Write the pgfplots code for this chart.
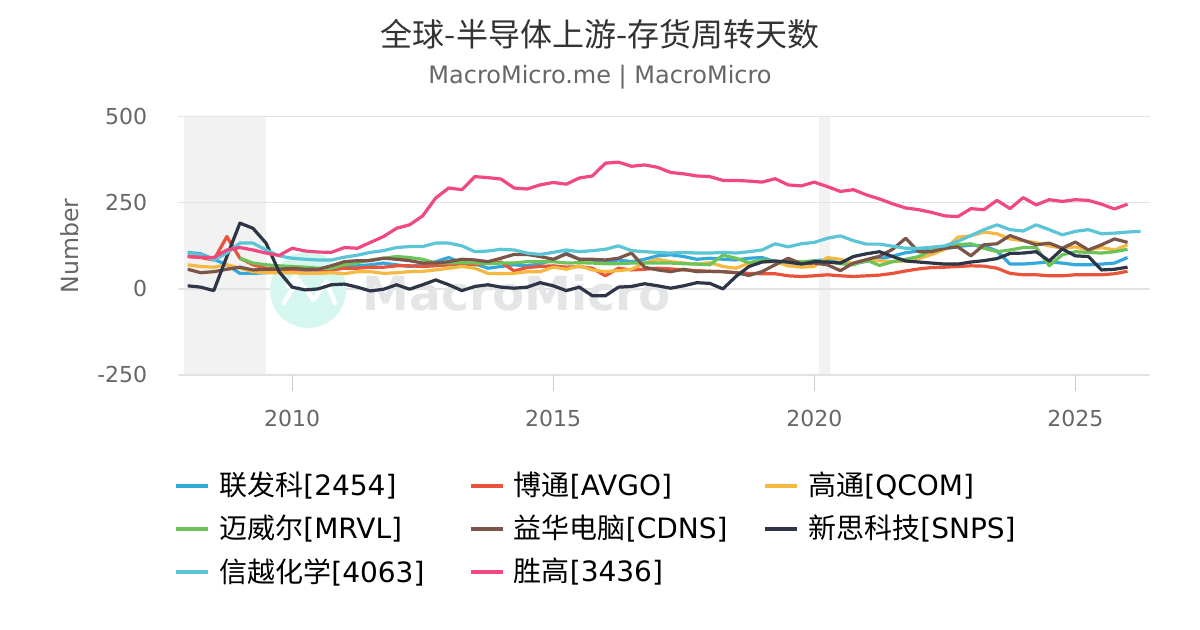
\documentclass[border=0pt]{standalone}
\usepackage{fontspec}
\setmainfont{DejaVu Sans}
\newfontfamily\cjk{Noto Sans CJK SC}
\usepackage{pgfplots}
\usepackage{pgfplotstable}
\pgfplotsset{compat=1.18}
\definecolor{cBlue}{HTML}{34A8DC}
\definecolor{cRed}{HTML}{E8533A}
\definecolor{cYellow}{HTML}{F5B942}
\definecolor{cGreen}{HTML}{6CC35A}
\definecolor{cBrown}{HTML}{7B5548}
\definecolor{cNavy}{HTML}{2D3547}
\definecolor{cCyan}{HTML}{5BC5D6}
\definecolor{cPink}{HTML}{F0487F}
\definecolor{cGrid}{HTML}{E3E3E3}
\definecolor{cBand}{HTML}{F2F2F2}
\definecolor{cTick}{HTML}{666666}
\definecolor{cTitle}{HTML}{333333}
\pgfplotstableread{
x blue red yellow green brown navy cyan pink
2008.00 106 94 70 nan 57 9 104 94
2008.25 102 91 65 nan 47 5 99 92
2008.50 86 84 63 nan 50 -5 84 91
2008.75 70 152 70 nan 57 94 104 113
2009.00 45 89 60 89 63 191 133 120
2009.25 45 70 50 75 55 176 133 113
2009.50 47 60 47 70 57 133 113 104
2009.75 50 57 47 67 57 50 96 97
2010.00 55 57 47 65 60 5 89 118
2010.25 55 55 45 63 57 -3 86 110
2010.50 57 55 45 60 57 0 84 107
2010.75 60 55 47 60 67 12 84 106
2011.00 65 60 44 70 79 14 92 120
2011.25 67 60 50 76 82 5 98 118
2011.50 70 63 50 84 82 -6 106 135
2011.75 75 63 45 89 89 -1 111 152
2012.00 70 67 47 94 86 12 120 176
2012.25 65 67 50 91 82 -1 123 186
2012.50 70 65 51 86 75 12 123 212
2012.75 79 67 55 75 75 26 133 264
2013.00 91 70 60 75 79 12 133 293
2013.25 75 73 65 76 86 -5 125 288
2013.50 73 70 60 75 84 7 108 326
2013.75 60 75 45 73 79 12 110 323
2014.00 65 78 44 75 89 5 115 319
2014.25 70 52 45 75 100 2 113 293
2014.50 67 62 50 79 100 5 104 290
2014.75 73 65 50 79 94 18 100 302
2015.00 84 67 63 79 86 9 106 309
2015.25 104 63 57 75 101 -5 113 304
2015.50 86 65 67 76 86 5 108 322
2015.75 84 60 55 75 86 -20 111 328
2016.00 79 38 50 73 84 -20 115 365
2016.25 84 60 53 73 89 5 125 368
2016.50 79 55 57 75 104 7 111 356
2016.75 86 57 75 75 63 15 108 360
2017.00 96 60 86 75 55 9 106 353
2017.25 99 58 79 75 50 2 104 338
2017.50 94 55 75 73 57 9 106 334
2017.75 86 53 72 72 50 18 104 328
2018.00 89 51 76 70 51 16 104 326
2018.25 86 50 65 98 50 0 106 315
2018.50 84 47 60 89 47 36 104 315
2018.75 89 45 75 76 39 65 108 313
2019.00 91 44 79 84 50 78 113 310
2019.25 79 44 79 79 70 81 131 320
2019.50 75 38 67 79 89 78 122 302
2019.75 76 36 63 79 73 72 131 299
2020.00 82 38 65 81 75 79 135 310
2020.25 84 41 91 79 70 78 147 297
2020.50 75 38 86 73 53 75 154 283
2020.75 73 36 73 70 75 94 140 288
2021.00 80 38 82 84 85 102 130 273
2021.25 87 40 82 68 95 108 130 261
2021.50 95 45 79 79 115 94 124 247
2021.75 105 52 81 86 147 81 118 235
2022.00 110 58 88 94 108 78 118 230
2022.25 114 62 100 113 108 75 121 222
2022.50 117 63 115 118 118 72 125 212
2022.75 123 65 150 128 122 72 138 210
2023.00 127 67 154 131 96 78 155 233
2023.25 125 66 165 118 128 82 172 230
2023.50 110 60 160 108 131 88 186 257
2023.75 72 45 145 113 155 103 172 233
2024.00 72 41 140 120 141 104 168 265
2024.25 75 41 134 120 128 108 186 244
2024.50 78 38 125 67 133 81 172 259
2024.75 75 38 118 99 118 116 157 254
2025.00 70 41 122 108 136 96 167 259
2025.25 70 41 113 106 113 94 172 257
2025.50 72 41 120 104 128 55 160 246
2025.75 75 44 113 108 145 57 162 232
2026.00 91 51 128 115 135 63 165 246
2026.25 nan nan nan nan nan nan 167 nan
}\datatable
\newcommand{\legitem}[4]{%
  \draw[#3, line width=1.7pt] (#1,#2) -- ++(16pt,0);
  \node[anchor=west, inner sep=0pt, text=black, font=\fontsize{14pt}{16pt}\selectfont] at ([xshift=21.5pt]#1,#2) {#4};
}
\begin{document}
\begin{tikzpicture}
% watermark
\fill[color={rgb,255:red,214;green,246;blue,240}] (154pt,170pt) circle (19pt);
\draw[white, line width=2.2pt, line join=round, line cap=round] (141.7pt,163.3pt) -- (149.2pt,175pt) -- (156.7pt,165pt) -- (163.3pt,174.2pt) -- (167.5pt,163.3pt);
\draw[white, line width=2.2pt, line join=round, line cap=round] (144pt,172pt) -- (149pt,179pt);
\node[text={rgb,255:red,228;green,229;blue,231}, font=\bfseries\fontsize{23.5pt}{24pt}\selectfont, inner sep=0pt] at (258.5pt,168.5pt) {MacroMicro};
\begin{axis}[
  set layers=standard,
  at={(89.15pt,127.5pt)}, anchor=south west,
  scale only axis, width=485.85pt, height=129.15pt,
  xmin=2007.82, xmax=2026.43, ymin=-250, ymax=500,
  axis line style={draw=none},
  tick style={draw=none},
  xtick={2010,2015,2020,2025}, xticklabels={2010,2015,2020,2025},
  ytick={-250,0,250,500}, yticklabels={-250,0,250,500},
  ymajorgrids, major grid style={cGrid, line width=0.7pt},
  tick label style={font=\fontsize{11pt}{12pt}\selectfont, text=cTick},
  yticklabel style={xshift=-12pt},
  xticklabel style={yshift=-14pt},
  major tick length=0pt,
  ylabel={Number},
  y label style={at={(axis description cs:0,0.5)}, anchor=center, yshift=54.15pt, font=\fontsize{11.8pt}{12pt}\selectfont, text=cTick},
  clip=false,
  unbounded coords=jump,
  every axis plot/.append style={line width=1.6pt, line join=round},
]
\addplot[on layer=axis background, fill=cBand, draw=none, forget plot] coordinates {(2007.92,-250) (2007.92,500) (2009.5,500) (2009.5,-250)} -- cycle;
\addplot[on layer=axis background, fill=cBand, draw=none, forget plot] coordinates {(2020.09,-250) (2020.09,500) (2020.31,500) (2020.31,-250)} -- cycle;
\addplot[cBlue] table[x=x, y=blue] {\datatable};
\addplot[cRed] table[x=x, y=red] {\datatable};
\addplot[cYellow] table[x=x, y=yellow] {\datatable};
\addplot[cGreen] table[x=x, y=green] {\datatable};
\addplot[cBrown] table[x=x, y=brown] {\datatable};
\addplot[cNavy] table[x=x, y=navy] {\datatable};
\addplot[cCyan] table[x=x, y=cyan] {\datatable};
\addplot[cPink] table[x=x, y=pink] {\datatable};
\end{axis}
% x tick marks
\foreach \xp in {292.7,553.7,814.7,1075.7} {
  \draw[color={rgb,255:red,204;green,204;blue,204}, line width=0.6pt] (\xp*0.5pt,127.5pt) -- ++(0,-8pt);
}
% title
\node[font=\cjk\fontsize{16pt}{18pt}\selectfont, text=cTitle] at (300pt,298pt) {全球-半导体上游-存货周转天数};
\node[font=\fontsize{12pt}{13pt}\selectfont, text=cTick] at (300pt,276.5pt) {MacroMicro.me | MacroMicro};
% legend
\legitem{88pt}{72pt}{cBlue}{{\cjk 联发科}[2454]}
\legitem{235.25pt}{72pt}{cRed}{{\cjk 博通}[AVGO]}
\legitem{382.5pt}{72pt}{cYellow}{{\cjk 高通}[QCOM]}
\legitem{88pt}{50.5pt}{cGreen}{{\cjk 迈威尔}[MRVL]}
\legitem{235.25pt}{50.5pt}{cBrown}{{\cjk 益华电脑}[CDNS]}
\legitem{382.5pt}{50.5pt}{cNavy}{{\cjk 新思科技}[SNPS]}
\legitem{88pt}{29pt}{cCyan}{{\cjk 信越化学}[4063]}
\legitem{235.25pt}{29pt}{cPink}{{\cjk 胜高}[3436]}
\pgfresetboundingbox
\path[use as bounding box] (0,0) rectangle (600pt,315pt);
\end{tikzpicture}
\end{document}
